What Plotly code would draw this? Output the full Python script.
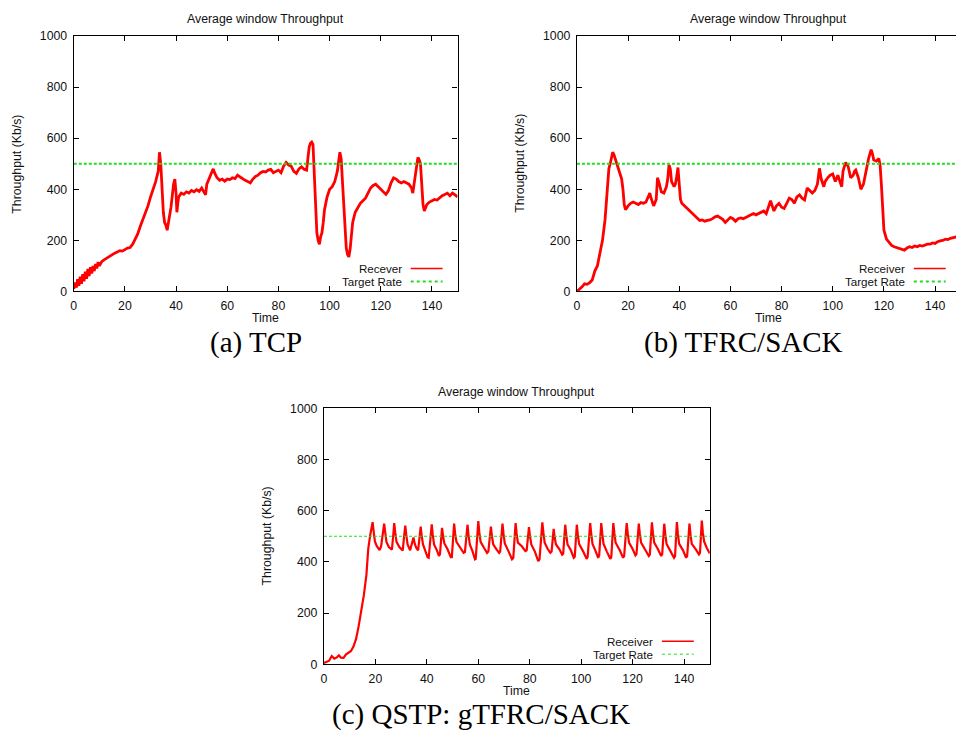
import plotly.graph_objects as go

W, H = 956, 737

# ---- measured throughput (Kb/s) versus time (s) ----
tcp_t = [0, 0.5, 1, 1.5, 2, 2.5, 3, 3.5, 4, 4.5, 5, 5.5, 6, 6.5, 7, 7.5, 8, 8.5, 9, 9.5,
         10, 11, 12, 13, 14, 15, 16, 17, 18, 19, 20, 21, 22, 23, 24, 25, 26, 27, 28, 29,
         30, 31, 32, 33, 33.5, 34, 34.5, 35, 35.5, 36, 36.5, 37, 38, 39, 39.5, 40, 40.3, 40.7,
         41, 42, 43, 44, 45, 46, 47, 48, 49, 50, 51, 51.5, 52, 53, 54, 54.5, 55, 56, 57, 58,
         59, 60, 61, 62, 63, 64, 65, 66, 67, 68, 69, 70, 71, 72, 73, 74, 75, 76, 77, 78, 79,
         80, 81, 82, 83, 84, 85, 86, 87, 88, 89, 90, 91, 91.5, 92, 92.5, 93, 93.5, 94, 94.5,
         95, 95.5, 96, 96.5, 97, 97.5, 98, 99, 100, 101, 102, 103, 103.5, 104, 104.5, 105,
         105.5, 106, 106.5, 107, 107.5, 108, 108.5, 109, 110, 111, 112, 113, 114, 115, 116,
         117, 118, 119, 120, 121, 122, 123, 124, 125, 126, 127, 128, 129, 130, 131, 132,
         132.5, 133, 134, 134.5, 135, 135.5, 136, 136.5, 137, 138, 139, 140, 141, 142, 143,
         144, 145, 146, 147, 148, 149, 150]
tcp_v = [10, 35, 15, 48, 22, 58, 30, 68, 40, 78, 50, 88, 60, 95, 70, 100, 80, 108, 90, 115,
         100, 118, 125, 132, 138, 145, 150, 155, 160, 158, 165, 170, 172, 185, 205, 225, 255,
         280, 310, 335, 370, 400, 430, 470, 545, 500, 400, 310, 270, 260, 240, 270, 330, 420,
         440, 380, 310, 350, 370, 385, 380, 390, 385, 395, 390, 398, 392, 405, 385, 378, 420,
         445, 470, 480, 465, 445, 435, 440, 432, 440, 438, 445, 442, 455, 448, 440, 435, 430,
         425, 440, 450, 455, 465, 470, 468, 475, 478, 465, 470, 475, 465, 490, 505, 495, 490,
         470, 462, 480, 488, 478, 475, 530, 565, 580, 585, 575, 460, 330, 230, 200, 185, 215,
         230, 270, 320, 370, 400, 410, 430, 470, 510, 545, 520, 430, 330, 220, 170, 145, 135,
         165, 210, 270, 310, 330, 345, 355, 365, 385, 405, 415, 420, 410, 400, 390, 380, 395,
         425, 445, 440, 430, 425, 430, 425, 420, 405, 385, 420, 480, 525, 515, 500, 420, 340,
         315, 340, 350, 355, 360, 358, 368, 375, 380, 385, 375, 385, 378, 370]

tfrc_t = [0, 1, 2, 3, 4, 5, 6, 7, 8, 9, 10, 11, 12, 12.5, 13, 14, 14.5, 15, 16, 17, 17.5,
          18, 18.5, 19, 19.5, 20, 21, 22, 23, 24, 25, 26, 27, 28, 28.5, 29, 30, 31, 31.5, 32,
          33, 34, 35, 35.5, 36, 36.5, 37, 38, 38.5, 39, 39.5, 40, 40.5, 41, 42, 43, 44, 45, 46,
          47, 48, 49, 50, 51, 52, 53, 54, 55, 56, 57, 58, 59, 60, 61, 62, 63, 64, 65, 66, 67,
          68, 69, 70, 71, 72, 73, 74, 75, 75.7, 76.5, 77, 78, 79, 80, 81, 82, 83, 84, 85, 86,
          87, 88, 89, 90, 91, 92, 93, 94, 94.8, 95.5, 96.5, 97, 98, 99, 100, 101, 102, 103,
          103.5, 104, 105, 106, 107, 108, 108.5, 109, 110, 111, 112, 113, 114, 115, 115.5, 116,
          117, 118, 118.5, 119, 119.5, 120, 121, 122, 123, 124, 125, 126, 127, 128, 129, 130,
          131, 132, 133, 134, 135, 136, 137, 138, 139, 140, 141, 142, 143, 144, 145, 146, 147,
          148, 149, 150]
tfrc_v = [0, 8, 18, 30, 28, 35, 45, 80, 100, 150, 200, 280, 420, 480, 500, 545, 535, 520,
          490, 460, 440, 400, 340, 320, 330, 335, 345, 350, 345, 340, 348, 345, 350, 370, 385,
          365, 335, 360, 445, 430, 390, 385, 410, 440, 495, 480, 430, 410, 420, 450, 485, 420,
          360, 345, 335, 325, 315, 305, 295, 285, 278, 280, 275, 278, 280, 285, 292, 295, 290,
          282, 270, 280, 290, 285, 275, 285, 288, 285, 290, 295, 300, 305, 300, 305, 310, 315,
          305, 330, 355, 330, 315, 335, 345, 330, 325, 345, 365, 360, 345, 370, 378, 365, 358,
          405, 395, 385, 395, 420, 482, 440, 410, 430, 445, 455, 460, 430, 455, 420, 410, 470,
          505, 490, 445, 455, 470, 475, 445, 400, 420, 470, 520, 555, 540, 515, 510, 520, 495,
          420, 300, 240, 205, 190, 180, 175, 172, 168, 165, 162, 170, 175, 172, 178, 175, 180,
          178, 182, 185, 185, 190, 188, 195, 198, 200, 205, 203, 208, 210, 212, 215, 218]

qstp_t = [0, 1, 2, 3, 4, 5, 5.8, 6.6, 7.6, 8.5, 9.5, 10.5, 11.5, 12.5, 13.5, 14.5, 15.5,
          16.5, 17.2, 17.9, 18.4, 18.9, 19.3, 19.8, 20.5, 21.2, 21.6, 22.2, 22.9, 23.4, 23.8,
          24.3, 25.2, 26.0, 26.4, 26.9, 27.3, 27.7, 28.2, 29.3, 30.2, 30.6, 31.1, 31.6, 32.0,
          32.5, 33.5, 34.3, 34.8, 35.3, 36.0, 36.6, 37.1, 37.6, 38.0, 38.5, 39.5, 40.3, 40.7,
          41.4, 41.9, 42.3, 42.8, 43.9, 44.7, 45.1, 45.5, 45.9, 46.3, 46.8, 48.0, 49.3, 49.7,
          50.2, 50.6, 51.0, 51.5, 53.0, 54.3, 54.8, 55.3, 55.8, 56.2, 56.7, 57.8, 58.7, 59.0,
          59.5, 60.0, 60.4, 60.9, 62.2, 63.4, 63.9, 64.4, 64.9, 65.3, 65.8, 67.0, 68.1, 68.5,
          68.9, 69.4, 69.8, 70.3, 71.8, 73.1, 73.6, 74.0, 74.5, 74.9, 75.4, 77.0, 78.3, 78.8,
          79.2, 79.7, 80.1, 80.6, 82.0, 83.3, 83.8, 84.3, 84.9, 85.3, 85.8, 87.0, 88.0, 88.5,
          88.9, 89.3, 89.7, 90.2, 91.5, 92.6, 93.0, 93.3, 93.8, 94.2, 94.7, 96.0, 97.1, 97.5,
          97.9, 98.3, 98.7, 99.2, 100.8, 102.1, 102.5, 103.0, 103.5, 103.9, 104.4, 105.5,
          106.6, 107.0, 107.4, 107.8, 108.2, 108.7, 110.0, 111.3, 111.7, 112.1, 112.5, 112.9,
          113.4, 115.0, 116.3, 116.7, 117.2, 117.7, 118.1, 118.6, 120.0, 121.1, 121.5, 121.9,
          122.4, 122.8, 123.3, 125.0, 126.3, 126.7, 127.1, 127.5, 127.9, 128.4, 129.8, 131.1,
          131.5, 131.9, 132.3, 132.7, 133.2, 134.8, 136.1, 136.5, 136.8, 137.2, 137.6, 138.1,
          139.6, 140.8, 141.2, 141.7, 142.1, 142.5, 143.0, 144.5, 145.8, 146.2, 146.5, 146.9,
          147.3, 147.8, 148.8, 150]
qstp_v = [5, 10, 14, 32, 22, 27, 35, 26, 25, 38, 45, 52, 70, 100, 150, 205, 270, 350,
          450, 500, 530, 555, 520, 480, 462, 448, 446, 460, 510, 549, 515,
          478, 458, 450, 448, 500, 551, 515, 478, 458, 446, 444, 495, 542, 505,
          468, 445, 472, 495, 470, 452, 445, 490, 538, 500, 468, 440, 418, 416,
          480, 546, 505, 468, 445, 423, 430, 490, 533, 500, 472, 450, 418, 418,
          490, 549, 510, 478, 455, 435, 438, 495, 545, 505, 468, 440, 410, 412,
          490, 559, 515, 478, 455, 435, 440, 495, 538, 500, 468, 450, 435, 440,
          495, 549, 510, 472, 440, 410, 415, 490, 551, 510, 475, 460, 442, 445,
          490, 536, 500, 468, 440, 403, 410, 480, 554, 515, 475, 450, 435, 440,
          485, 529, 495, 468, 450, 428, 432, 485, 545, 505, 468, 445, 416, 420,
          490, 545, 505, 470, 440, 412, 418, 490, 551, 510, 470, 445,
          416, 425, 495, 551, 510, 470, 440, 412, 418, 490, 551, 512,
          475, 445, 416, 422, 492, 551, 512, 475, 450, 425, 430, 492,
          549, 510, 475, 445, 423, 428, 495, 554, 512, 475, 450, 423,
          430, 492, 549, 508, 470, 440, 416, 422, 495, 555, 510, 470,
          445, 416, 422, 492, 549, 508, 470, 450, 429, 435, 500, 561,
          515, 480, 455, 433]

target_rate = 500
time_span = [0, 150]

x_ticks = [0, 20, 40, 60, 80, 100, 120, 140]
y_ticks = [0, 200, 400, 600, 800, 1000]

panel_titles = ["Average window Throughput"] * 3
legend_names = [("Recever", "Target Rate"), ("Receiver", "Target Rate"), ("Receiver", "Target Rate")]
captions = ["(a) TCP", "(b) TFRC/SACK", "(c) QSTP: gTFRC/SACK"]

SANS = "Liberation Sans, Arial, sans-serif"
SERIF = "Liberation Serif, Times New Roman, serif"
TXT = "#111111"
RED = "#ff0000"
GREEN = "#22dd22"
FS = 12.3
KEY_FS = 11.6


def px(x):
    return x / W


def py(y):
    return 1 - y / H


def label(text, x, y, size=FS, family=SANS, xanchor="center", angle=0, color=TXT):
    return dict(text=text, x=px(x), y=py(y), xref="paper", yref="paper", showarrow=False,
                xanchor=xanchor, yanchor="middle", textangle=angle, borderpad=0,
                font=dict(family=family, size=size, color=color))


# panel boxes in pixels: left, right, top, bottom (0..150 s across)
boxes = [
    (71, 456, 29.5, 290),
    (575.7, 575.7 + 385, 29.5, 290),
    (322, 709, 409, 670),
]

fig = go.Figure()

series = [(tcp_t, tcp_v, 2.8, 2.0, "3px,2px"),
          (tfrc_t, tfrc_v, 2.8, 2.0, "3px,2px"),
          (qstp_t, qstp_v, 2.2, 1.0, "3px,2px")]

annotations = []
shapes = []

for i, (ts, vs, lw, gw, gdash) in enumerate(series):
    sfx = "" if i == 0 else str(i + 1)
    fig.add_trace(go.Scatter(x=ts, y=vs, mode="lines", name=legend_names[i][0],
                             line=dict(color=RED, width=lw), showlegend=False,
                             xaxis="x" + sfx, yaxis="y" + sfx))
    fig.add_trace(go.Scatter(x=time_span, y=[target_rate, target_rate], mode="lines",
                             name=legend_names[i][1],
                             line=dict(color=GREEN, width=gw, dash=gdash), showlegend=False,
                             xaxis="x" + sfx, yaxis="y" + sfx))

    left, right, top, bottom = boxes[i]
    clipped = right > W
    dom_r = 1.0 if clipped else px(right)
    x_hi = 150 if not clipped else 150 * (W - left) / (right - left)

    common = dict(showline=True, linecolor="#000", linewidth=1.2, ticks="inside", ticklen=5,
                  tickcolor="#000", tickwidth=1, showgrid=False, zeroline=False,
                  ticklabelstandoff=3,
                  tickfont=dict(family=SANS, size=FS, color=TXT))
    fig.layout["xaxis" + sfx] = dict(common, domain=[px(left), dom_r], range=[0, x_hi],
                                     tickvals=x_ticks, mirror="ticks",
                                     anchor="y" + sfx)
    fig.layout["yaxis" + sfx] = dict(common, domain=[py(bottom), py(top)], range=[0, 1000],
                                     tickvals=y_ticks, mirror=(False if clipped else "ticks"),
                                     anchor="x" + sfx)

    cx = (left + right) / 2
    cy = (top + bottom) / 2
    annotations.append(label(panel_titles[i], cx, top - 17))
    annotations.append(label("Time", cx, bottom + 27))
    annotations.append(label("Throughput (Kb/s)", left - 57, cy, angle=-90))

    # key in the lower right corner: label then line sample
    lx_end = left + (330 if i != 2 else 331)
    samp0, samp1 = lx_end + 8, lx_end + 40
    for k, (lab, col, wd) in enumerate([(legend_names[i][0], RED, 1.6),
                                        (legend_names[i][1], GREEN, gw)]):
        yy = bottom - 23.5 + 13.2 * k
        annotations.append(label(lab, lx_end, yy, size=KEY_FS, xanchor="right"))
        shapes.append(dict(type="line", xref="paper", yref="paper", x0=px(samp0), x1=px(samp1),
                           y0=py(yy), y1=py(yy),
                           line=dict(color=col, width=wd, dash=("solid" if k == 0 else "dot"))))

# sub-figure captions
cap_pos = [(254, 342), (743, 342), (480, 721)]
for cap, (cx, cy) in zip(captions, cap_pos):
    annotations.append(label(cap, cx, cy, size=29, family=SERIF, color="#000"))

fig.update_layout(width=W, height=H, margin=dict(l=0, r=0, t=0, b=0),
                  paper_bgcolor="white", plot_bgcolor="white",
                  annotations=annotations, shapes=shapes, showlegend=False)

fig.write_html("out.html")
